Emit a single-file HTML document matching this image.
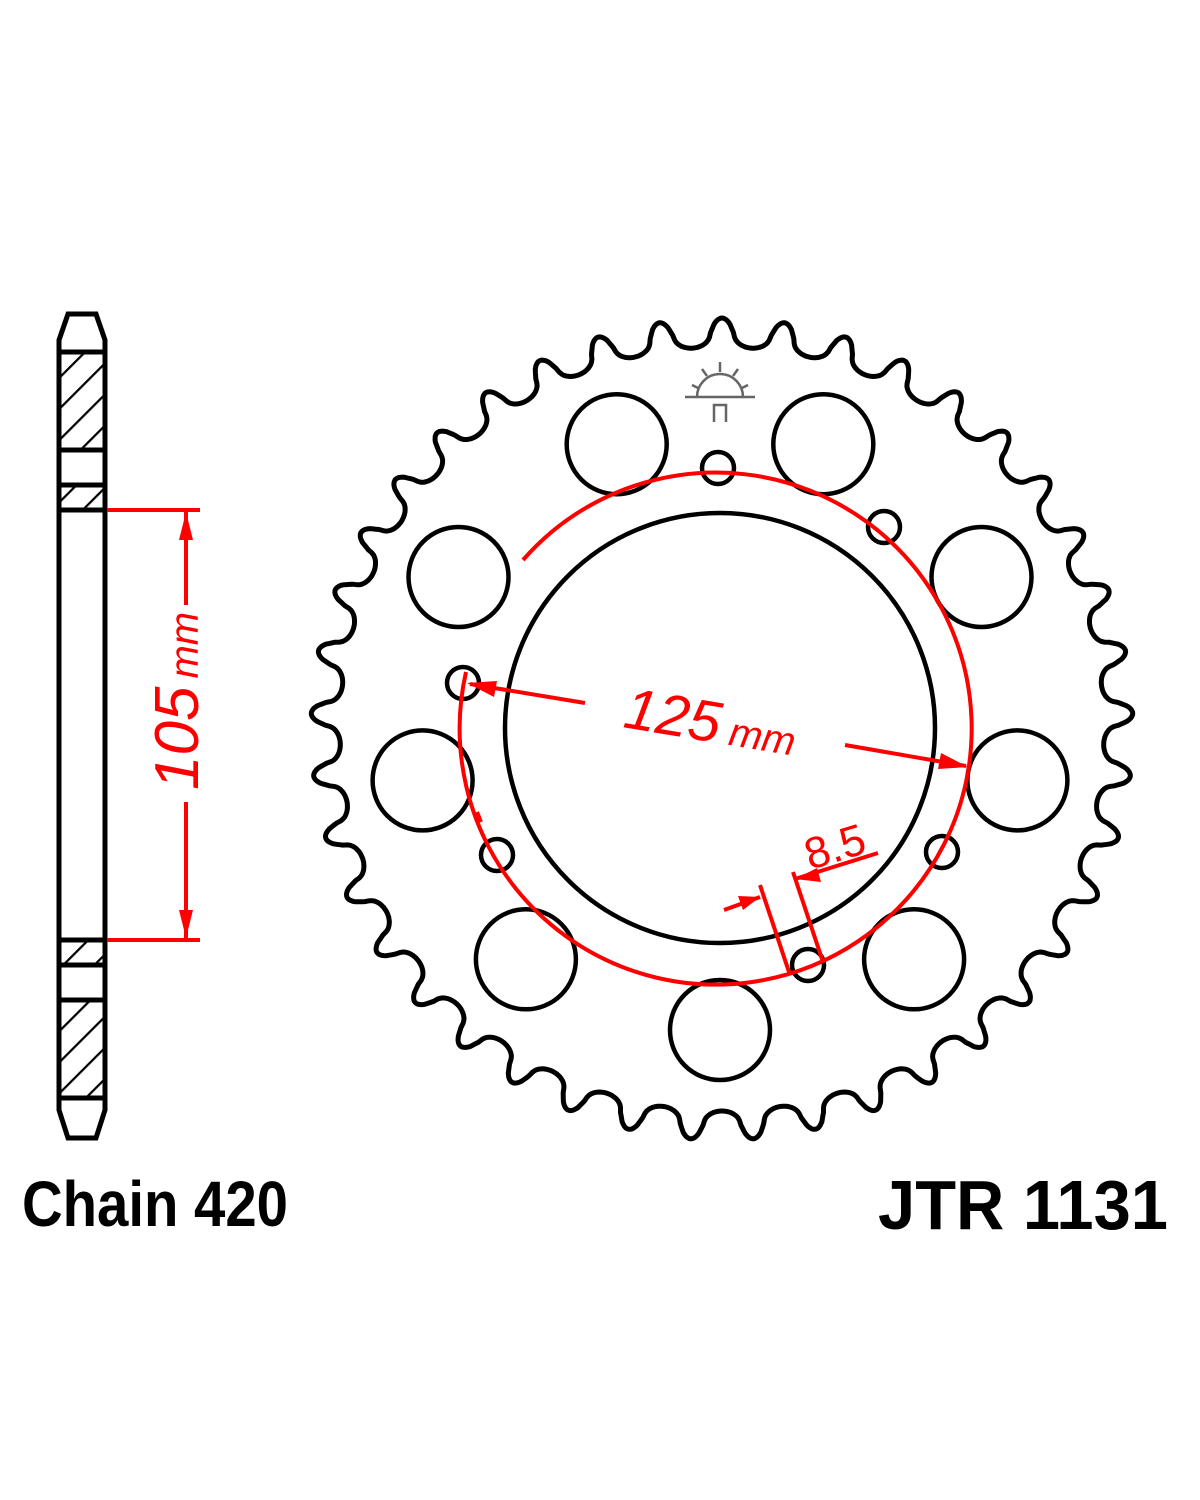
<!DOCTYPE html>
<html><head><meta charset="utf-8"><style>
html,body{margin:0;padding:0;background:#fff;}
svg{display:block;}
</style></head><body>
<svg id="s" width="1200" height="1500" viewBox="0 0 1200 1500" xmlns="http://www.w3.org/2000/svg">
<defs>
<pattern id="h" patternUnits="userSpaceOnUse" width="22" height="22" patternTransform="rotate(45)">
<rect width="22" height="22" fill="#fff"/><line x1="0" y1="0" x2="0" y2="22" stroke="#000" stroke-width="4.5"/>
</pattern>
</defs>
<g stroke="#000" stroke-width="5" fill="none">
<rect x="59" y="352" width="46" height="98" fill="url(#h)"/>
<rect x="59" y="485" width="46" height="25" fill="url(#h)"/>
<rect x="59" y="940" width="46" height="25" fill="url(#h)"/>
<rect x="59" y="1000" width="46" height="98" fill="url(#h)"/>
<path d="M59 352 L59 340 L68 314 L96 314 L105 340 L105 352"/>
<path d="M59 1098 L59 1110 L68 1138 L96 1138 L105 1110 L105 1098"/>
<line x1="59" y1="352" x2="59" y2="1098"/>
<line x1="105" y1="352" x2="105" y2="1098"/>
</g>
<g stroke="#f00" stroke-width="4" fill="none">
<line x1="107" y1="510" x2="200" y2="510"/>
<line x1="107" y1="940" x2="200" y2="940"/>
<line x1="186" y1="512" x2="186" y2="605"/>
<line x1="186" y1="802" x2="186" y2="938"/>
</g>
<g fill="#f00">
<polygon points="186,512 179,540 193,540"/>
<polygon points="186,938 179,910 193,910"/>
</g>
<text transform="translate(198,790) rotate(-90)" font-family="Liberation Sans, sans-serif" font-style="italic" fill="#f00"><tspan font-size="62">105</tspan><tspan font-size="40" dx="8">mm</tspan></text>

<path id="gear" fill="none" stroke="#000" stroke-width="5"/>
<g fill="none" stroke="#000" stroke-width="4.5">
<circle cx="720" cy="728" r="215"/>
<g id="holes"></g>
<circle cx="718" cy="468" r="16"/>
<circle cx="884" cy="527" r="16"/>
<circle cx="463" cy="683" r="16"/>
<circle cx="497" cy="855" r="16"/>
<circle cx="942" cy="852" r="16"/>
<circle cx="808" cy="965" r="16"/>
</g>
<g stroke="#666" stroke-width="2.5" fill="none">
<path d="M697 397 A23 23 0 0 1 743 397"/>
<line x1="685" y1="397" x2="755" y2="397"/>
<line x1="720" y1="362" x2="720" y2="372"/>
<line x1="702" y1="369" x2="707" y2="376"/>
<line x1="738" y1="369" x2="733" y2="376"/>
<line x1="692" y1="385" x2="698" y2="388"/>
<line x1="748" y1="385" x2="742" y2="388"/>
<path d="M714 422 L714 405 L726 405 L726 422"/>
</g>
<g stroke="#f00" stroke-width="4" fill="none">
<path d="M466 672 A256 256 0 1 0 523 560"/>
<line x1="477" y1="812" x2="481" y2="822"/>
<line x1="470" y1="684" x2="585" y2="703"/>
<line x1="845" y1="745" x2="966" y2="766"/>
<line x1="760" y1="885" x2="790" y2="975"/>
<line x1="793" y1="872" x2="823" y2="962"/>
<line x1="724" y1="910" x2="760" y2="897"/>
<line x1="878" y1="853" x2="795" y2="879"/>
</g>
<g fill="#f00">
<polygon points="467,683 497,681 494,697"/>
<polygon points="968,767 938,769 941,753"/>
<polygon points="760,897 738,896 743,910"/>
<polygon points="795,879 817,868 821,882"/>
</g>
<text transform="translate(622,727) rotate(9.5)" font-family="Liberation Sans, sans-serif" font-style="italic" fill="#f00"><tspan font-size="58">125</tspan><tspan font-size="40" dx="10">mm</tspan></text>
<text transform="translate(810,870) rotate(-17)" font-family="Liberation Sans, sans-serif" fill="#f00" font-size="44">8.5</text>

<text x="22" y="1226" font-family="Liberation Sans, sans-serif" font-weight="bold" font-size="64" textLength="266" lengthAdjust="spacingAndGlyphs">Chain 420</text>
<text x="878" y="1229" font-family="Liberation Sans, sans-serif" font-weight="bold" font-size="70" textLength="290" lengthAdjust="spacingAndGlyphs">JTR 1131</text>
</svg>
<script>
(function(){
var cx=722,cy=729,N=41,tip=411,root=382,pts=[];
var M=N*48;
for(var i=0;i<=M;i++){
 var t=i/M*2*Math.PI;
 var p=(i%48)/48;
 var d=Math.min(p,1-p)*2;
 var f;
 if(d<0.25) f=1-0.2*(d/0.25)*(d/0.25);
 else if(d<0.4){var u=(d-0.25)/0.15; f=0.8-0.35*u;}
 else {var v=(d-0.4)/0.6; f=0.45*(1-Math.sqrt(Math.max(0,1-(1-v)*(1-v))));}
 var r=root+(tip-root)*f;
 pts.push((cx+r*Math.sin(t)).toFixed(1)+","+(cy-r*Math.cos(t)).toFixed(1));
}
document.getElementById("gear").setAttribute("d","M"+pts.join(" L")+"Z");
var g=document.getElementById("holes"),s="";
[20,60,100,140,180,220,260,300,340].forEach(function(a){
 var r=a*Math.PI/180;
 var x=720+302*Math.sin(r),y=728-302*Math.cos(r);
 s+='<circle xmlns="http://www.w3.org/2000/svg" cx="'+x.toFixed(1)+'" cy="'+y.toFixed(1)+'" r="50"/>';
});
g.innerHTML=s;
})();
</script>
</body></html>
